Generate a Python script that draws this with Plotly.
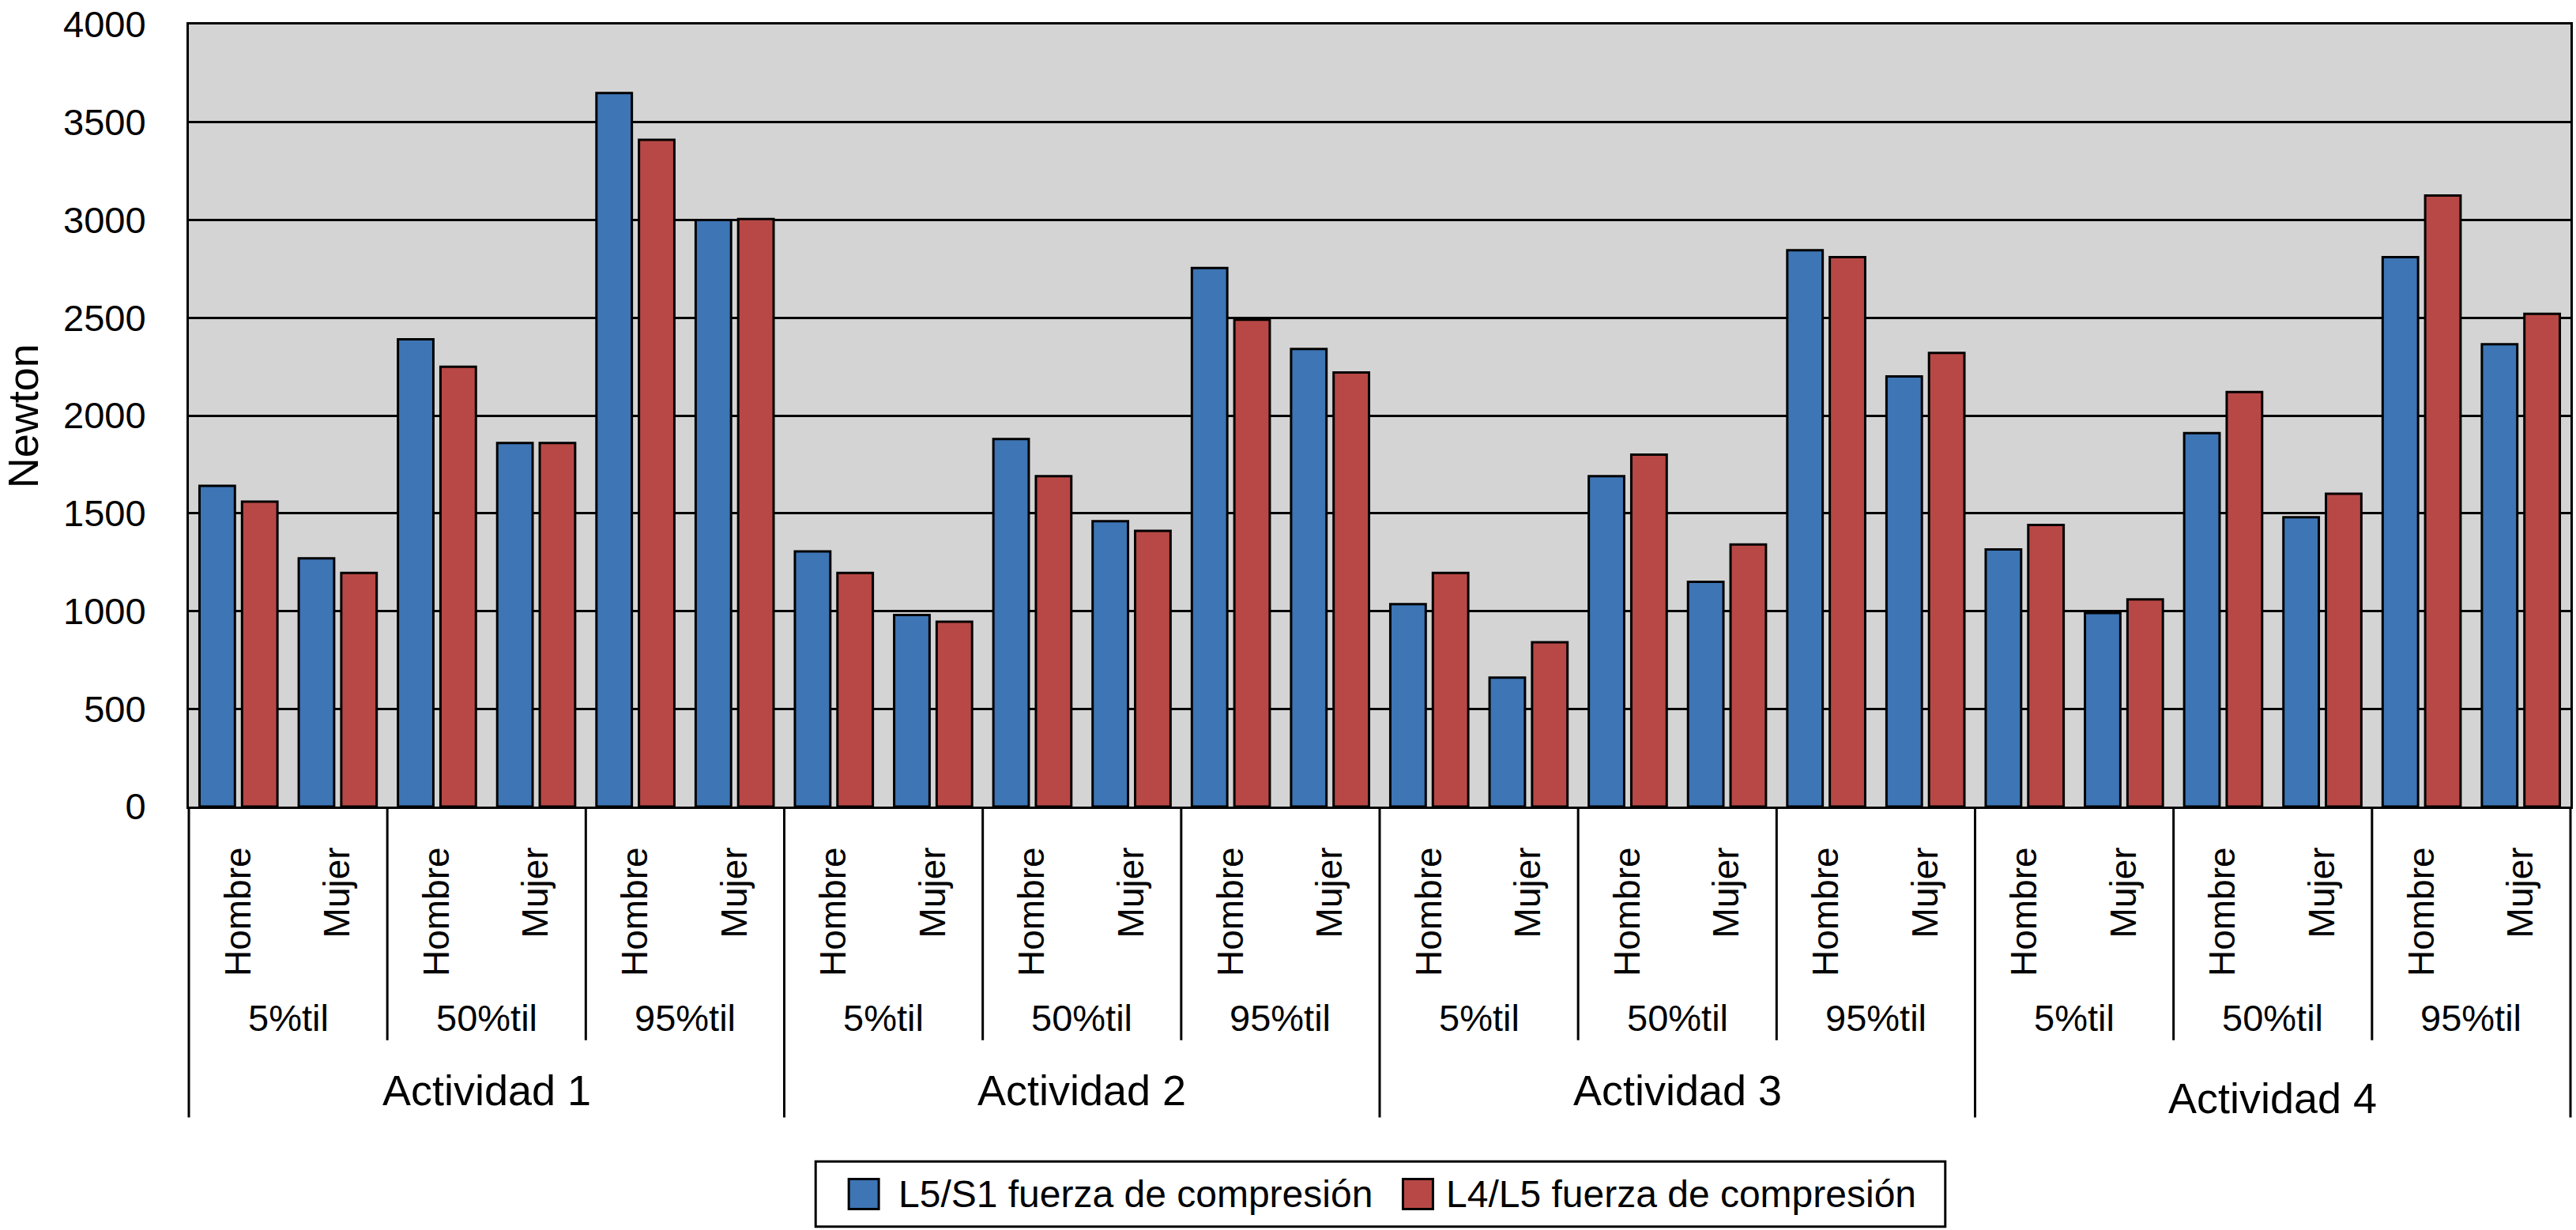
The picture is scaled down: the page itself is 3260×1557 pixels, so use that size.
import plotly.graph_objects as go

# ---------------- data ----------------
activities = ["Actividad 1", "Actividad 2", "Actividad 3", "Actividad 4"]
percentiles = ["5%til", "50%til", "95%til"]
sexes = ["Hombre", "Mujer"]

series_names = ["L5/S1 fuerza de compresión", "L4/L5 fuerza de compresión"]

l5s1 = [1640, 1270, 2390, 1860, 3650, 3000,
        1305, 980, 1880, 1460, 2755, 2340,
        1035, 660, 1690, 1150, 2845, 2200,
        1315, 990, 1910, 1480, 2810, 2365]
l4l5 = [1560, 1195, 2250, 1860, 3410, 3005,
        1195, 945, 1690, 1410, 2490, 2220,
        1195, 840, 1800, 1340, 2810, 2320,
        1440, 1060, 2120, 1600, 3125, 2520]

y_ticks = [0, 500, 1000, 1500, 2000, 2500, 3000, 3500, 4000]

# ---------------- style ----------------
BLUE = "#3D75B5"
RED = "#B84845"
BG = "#D3D4D3"
FONT = "Arial, Liberation Sans, Helvetica, sans-serif"

W, H = 3260, 1557
L, R, T, B = 239, 4, 27, 536
PW = W - L - R
PH = H - T - B


def px_x(px):
    return (px - L) / PW


def px_y(py):
    return (H - B - py) / PH


n_groups = len(activities) * len(percentiles)
n = n_groups * len(sexes)
x = list(range(n))
ticktext = sexes * n_groups


def xpaper(v):
    return (v + 0.5) / n


fig = go.Figure()
for vals, name, col in [(l5s1, series_names[0], BLUE), (l4l5, series_names[1], RED)]:
    fig.add_bar(x=x, y=vals, name=name, showlegend=False,
                marker=dict(color=col, line=dict(color="black", width=3)))

shapes = []
annotations = []

# separator lines below the axis
for k in range(n_groups + 1):
    xb = k * len(sexes) - 0.5
    long = (k % len(percentiles) == 0)
    shapes.append(dict(type="line", xref="paper", yref="paper",
                       x0=xpaper(xb), x1=xpaper(xb), y0=0,
                       y1=px_y(1416 if long else 1318),
                       line=dict(color="black", width=3)))

# percentile labels
for k in range(n_groups):
    xc = k * len(sexes) + (len(sexes) - 1) / 2
    annotations.append(dict(text=percentiles[k % len(percentiles)], xref="paper", yref="paper",
                            x=xpaper(xc), y=px_y(1290), showarrow=False,
                            xanchor="center", yanchor="middle",
                            font=dict(size=47, color="black", family=FONT)))

# activity labels
per_act = len(percentiles) * len(sexes)
for a, name in enumerate(activities):
    xc = a * per_act + (per_act - 1) / 2
    ypos = 1381 if a < len(activities) - 1 else 1391
    annotations.append(dict(text=name, xref="paper", yref="paper",
                            x=xpaper(xc), y=px_y(ypos), showarrow=False,
                            xanchor="center", yanchor="middle",
                            font=dict(size=54, color="black", family=FONT)))

# y axis title
annotations.append(dict(text="Newton", xref="paper", yref="paper",
                        x=px_x(29), y=px_y(525), textangle=-90, showarrow=False,
                        xanchor="center", yanchor="middle",
                        font=dict(size=54, color="black", family=FONT)))

# manual legend
shapes.append(dict(type="rect", xref="paper", yref="paper",
                   x0=px_x(1033), x1=px_x(2464), y0=px_y(1555), y1=px_y(1472),
                   line=dict(color="black", width=3), fillcolor="white"))
leg_cy = (1472 + 1555) / 2
for sym_x, txt_x, col, name in [(1075, 1136, BLUE, series_names[0]),
                                (1777, 1830, RED, series_names[1])]:
    shapes.append(dict(type="rect", xref="paper", yref="paper",
                       x0=px_x(sym_x), x1=px_x(sym_x + 38),
                       y0=px_y(leg_cy + 19), y1=px_y(leg_cy - 19),
                       line=dict(color="black", width=3), fillcolor=col))
    annotations.append(dict(text=name, xref="paper", yref="paper",
                            x=px_x(txt_x), y=px_y(leg_cy), showarrow=False,
                            xanchor="left", yanchor="middle",
                            font=dict(size=48, color="black", family=FONT)))

fig.update_layout(
    width=W, height=H, autosize=False,
    margin=dict(l=L, r=R, t=T, b=B, pad=0),
    paper_bgcolor="white", plot_bgcolor=BG,
    barmode="group", bargap=0.143, bargroupgap=0.167,
    font=dict(family=FONT, color="black"),
    shapes=shapes, annotations=annotations,
    xaxis=dict(range=[-0.5, n - 0.5], tickmode="array", tickvals=x, ticktext=ticktext,
               tickangle=-90, tickfont=dict(size=46, family=FONT, color="black"),
               showline=True, linecolor="black", linewidth=3, mirror=True,
               showgrid=False, zeroline=False, ticks="", ticklabelstandoff=30),
    yaxis=dict(range=[0, 4000], tickmode="array", tickvals=y_ticks,
               tickfont=dict(size=47, family=FONT, color="black"),
               showline=True, linecolor="black", linewidth=3, mirror=True,
               showgrid=True, gridcolor="black", gridwidth=3, zeroline=False,
               ticks="", ticklabelstandoff=42),
)

fig.write_html("out.html", config={"displayModeBar": False},
               post_script="document.body.style.margin='0';")
